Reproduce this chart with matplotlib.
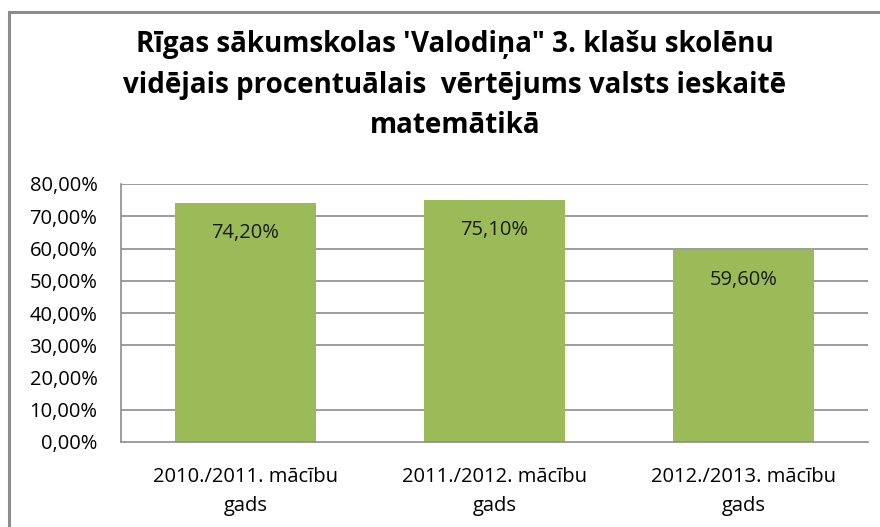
import matplotlib.pyplot as plt
from matplotlib.patches import Rectangle

categories = ["2010./2011. mācību\ngads", "2011./2012. mācību\ngads", "2012./2013. mācību\ngads"]
values = [74.20, 75.10, 59.60]
yticks = [0, 10, 20, 30, 40, 50, 60, 70, 80]
gridlines = [10, 30, 40, 50, 60, 70, 80]  # the 20% line is missing in the original
title = "Rīgas sākumskolas 'Valodiņa\" 3. klašu skolēnu\nvidējais procentuālais  vērtējums valsts ieskaitē\nmatemātikā"

W, H = 880, 527
fig = plt.figure(figsize=(W / 100, H / 100), dpi=100)
fig.patches.append(Rectangle((9 / W, -0.2), 1.2, 1.2 - 12 / H, transform=fig.transFigure,
                             fill=False, edgecolor="#8c8c8c", linewidth=2.2))

ax = fig.add_axes([121 / W, 1 - 442 / H, (868 - 121) / W, (442 - 184) / H])
x = range(len(categories))
ax.bar(x, values, width=0.57, color="#9bbb59", zorder=2)
for xi, v in zip(x, values):
    ax.text(xi, v - 9.3, f"{v:.2f}%".replace(".", ","), ha="center", va="center",
            fontsize=14.5, family="Open Sans", color="#1a1a1a", zorder=3)

for g in gridlines:
    ax.axhline(g, color="#8c8c8c", linewidth=1.2, zorder=1)

ax.set_xlim(-0.5, 2.5)
ax.set_ylim(0, 80)
ax.set_yticks(yticks)
ax.set_yticklabels([f"{t:.2f}%".replace(".", ",") for t in yticks], family="Open Sans", fontsize=14.5)
ax.set_xticks(list(x))
ax.set_xticklabels(categories, family="Open Sans", fontsize=14.5, linespacing=1.6)
ax.tick_params(length=0)
ax.tick_params(axis="x", pad=18)
ax.tick_params(axis="y", pad=17)
for s in ["top", "right"]:
    ax.spines[s].set_visible(False)
for s in ["left", "bottom"]:
    ax.spines[s].set_color("#8c8c8c")
    ax.spines[s].set_linewidth(1.2)

fig.text(455 / W, 1 - 85 / H, title, ha="center", va="center", fontsize=20,
         family="Open Sans", weight="bold", linespacing=1.52)

fig.savefig("out.png", dpi=100)
